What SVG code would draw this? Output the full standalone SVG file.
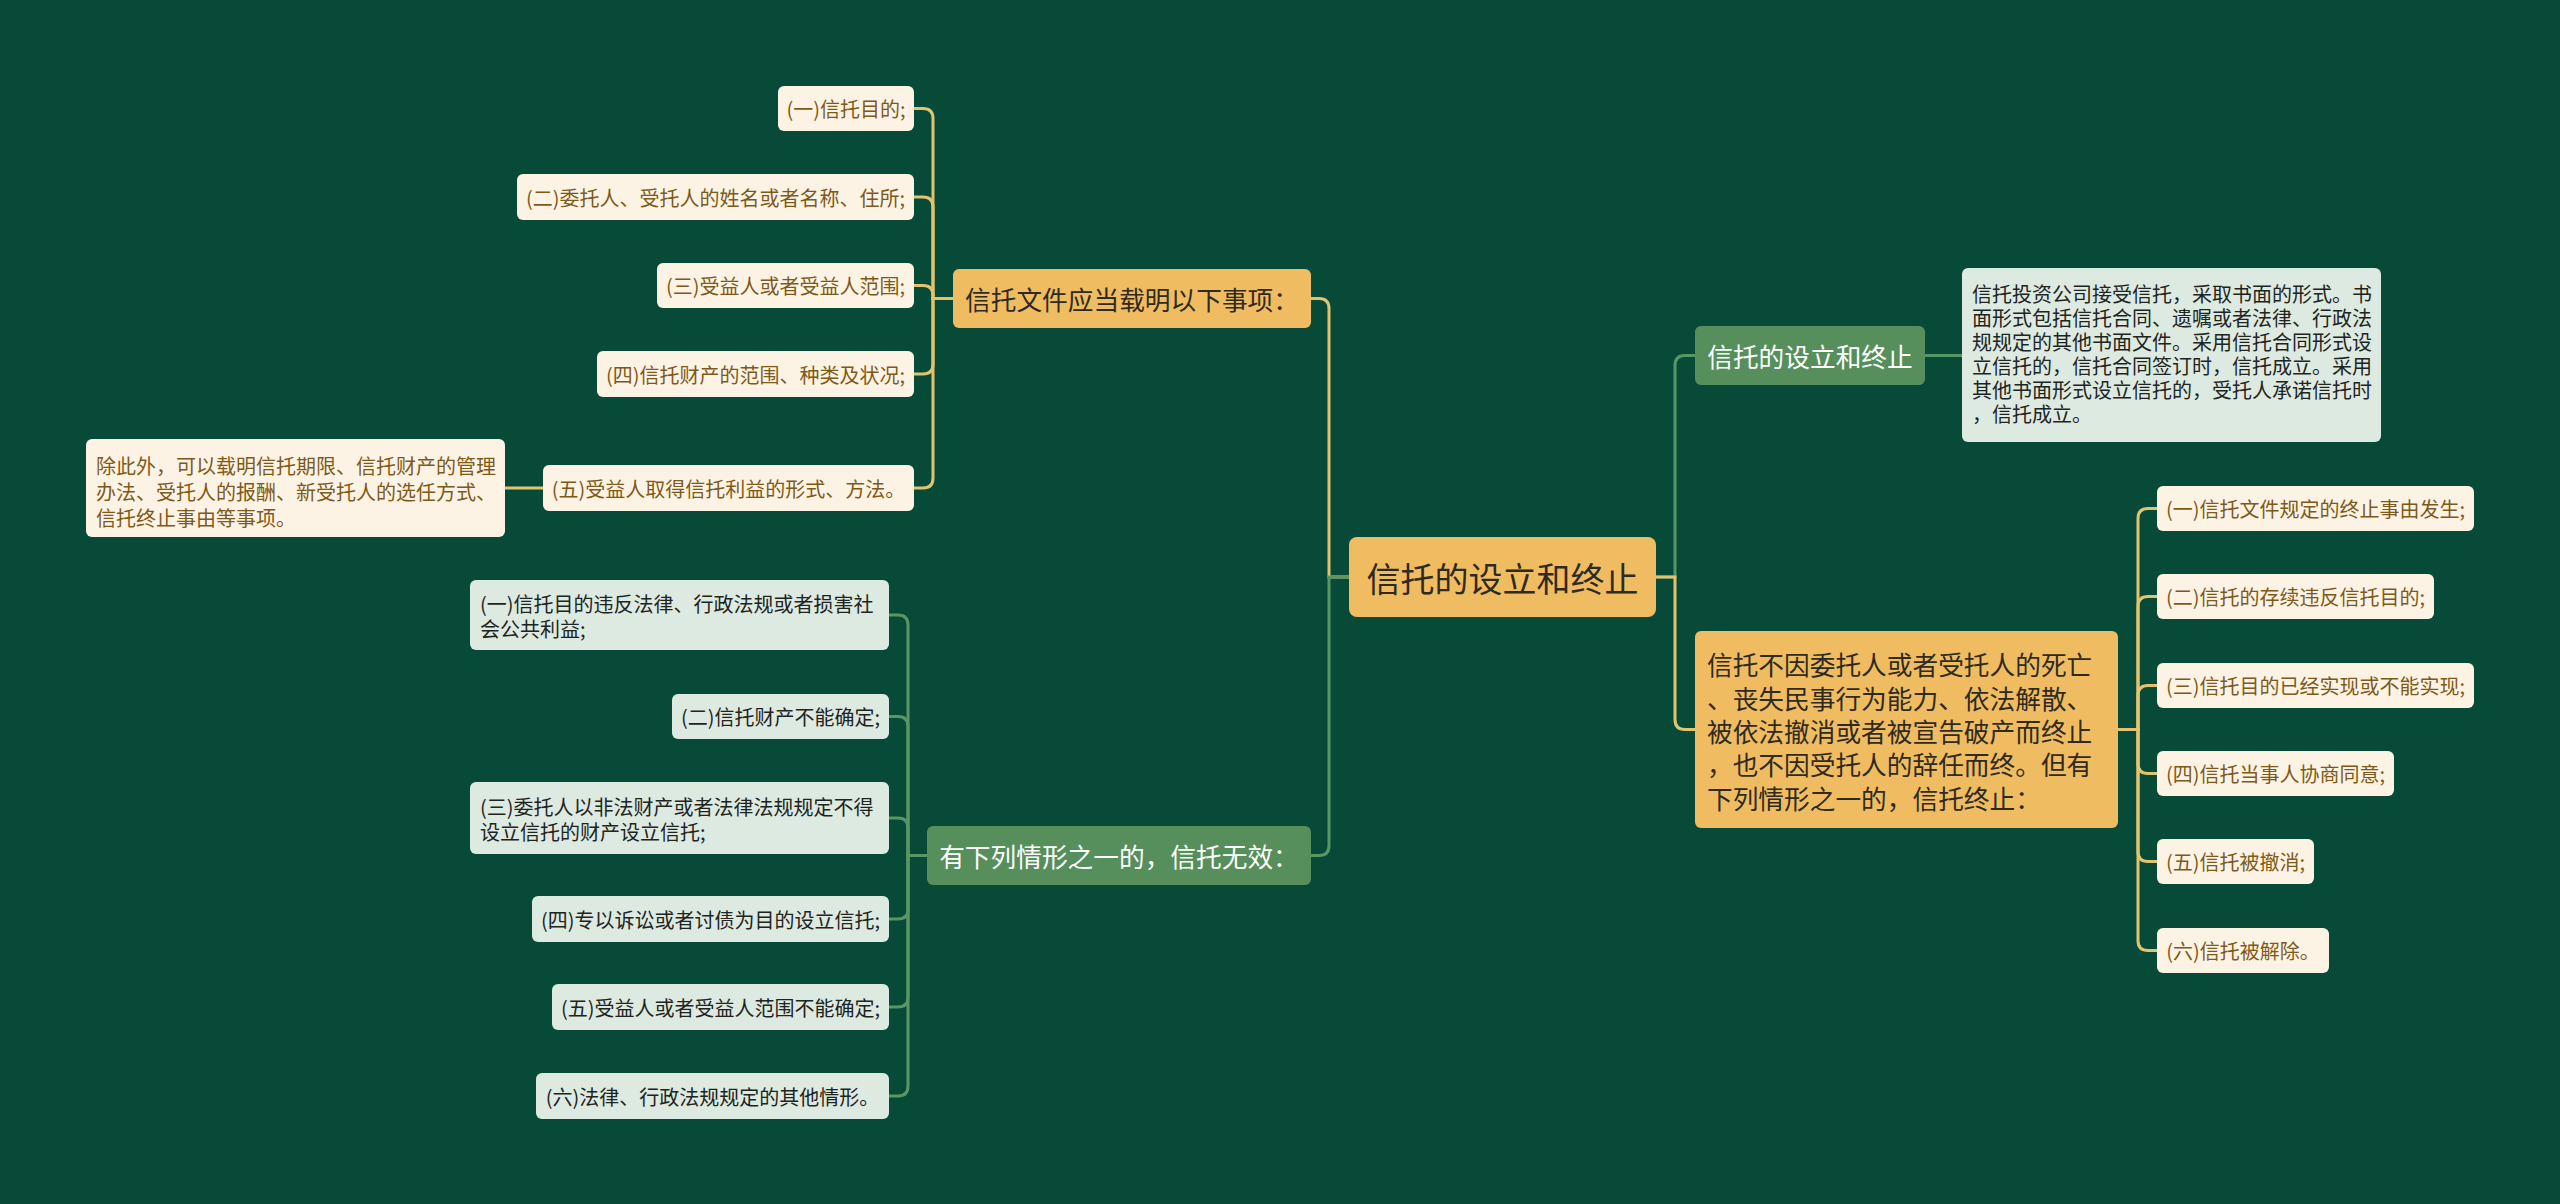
<svg xmlns="http://www.w3.org/2000/svg" width="2560" height="1204" viewBox="0 0 2560 1204">
<style>
text{font-family:"Noto Sans CJK SC","Noto Sans",sans-serif;dominant-baseline:central}
.bg{fill:#074a38}
.or{fill:#f0bc62}
.gr{fill:#568f5c}
.cr{fill:#fdf3e4}
.lg{fill:#ddeae1}
.tor{fill:#2e2a20;font-size:25.7px}
.tgr{fill:#ffffff;font-size:25.7px}
.tcr{fill:#7d5a19;font-size:20px}
.tlg{fill:#1e2420;font-size:20px}
.c{text-anchor:middle}
.lg-line{fill:none;stroke:#5a9664;stroke-width:3}
.gd-line{fill:none;stroke:#e2c46e;stroke-width:3}
</style>
<rect class="bg" x="0" y="0" width="2560" height="1204"/>
<g id="connectors">
<path class="gd-line" d="M1349,577 H1329 V308.5 Q1329,298.5 1319,298.5 H1311"/>
<path class="lg-line" d="M1349,577 H1329 V845.5 Q1329,855.5 1319,855.5 H1311"/>
<path class="lg-line" d="M1656,577 H1675 V365.5 Q1675,355.5 1685,355.5 H1695"/>
<path class="gd-line" d="M1656,577 H1675 V719.5 Q1675,729.5 1685,729.5 H1695"/>
<path class="gd-line" d="M953,298.5 H933 V118.5 Q933,108.5 923,108.5 H914"/>
<path class="gd-line" d="M953,298.5 H933 V207 Q933,197 923,197 H914"/>
<path class="gd-line" d="M953,298.5 H933 V295.5 Q933,285.5 923,285.5 H914"/>
<path class="gd-line" d="M953,298.5 H933 V364 Q933,374 923,374 H914"/>
<path class="gd-line" d="M953,298.5 H933 V478 Q933,488 923,488 H914"/>
<path class="gd-line" d="M543,488 H505"/>
<path class="lg-line" d="M927,855.5 H908 V625 Q908,615 898,615 H889"/>
<path class="lg-line" d="M927,855.5 H908 V726.5 Q908,716.5 898,716.5 H889"/>
<path class="lg-line" d="M927,855.5 H908 V828 Q908,818 898,818 H889"/>
<path class="lg-line" d="M927,855.5 H908 V909 Q908,919 898,919 H889"/>
<path class="lg-line" d="M927,855.5 H908 V997 Q908,1007 898,1007 H889"/>
<path class="lg-line" d="M927,855.5 H908 V1086 Q908,1096 898,1096 H889"/>
<path class="lg-line" d="M1925,355.5 H1962"/>
<path class="gd-line" d="M2118,729.5 H2138 V518.5 Q2138,508.5 2148,508.5 H2157"/>
<path class="gd-line" d="M2118,729.5 H2138 V606.5 Q2138,596.5 2148,596.5 H2157"/>
<path class="gd-line" d="M2118,729.5 H2138 V695.5 Q2138,685.5 2148,685.5 H2157"/>
<path class="gd-line" d="M2118,729.5 H2138 V763.5 Q2138,773.5 2148,773.5 H2157"/>
<path class="gd-line" d="M2118,729.5 H2138 V851.5 Q2138,861.5 2148,861.5 H2157"/>
<path class="gd-line" d="M2118,729.5 H2138 V940.5 Q2138,950.5 2148,950.5 H2157"/>
</g>
<g id="root"><rect class="or" x="1349" y="537" width="307" height="80" rx="8"/><text class="c" x="1502.5" y="577" style="fill:#2e2a20;font-size:34px">信托的设立和终止</text></g>
<g id="n1"><rect class="or" x="953" y="269" width="358" height="59" rx="6"/><text class="tor c" x="1132" y="298.5">信托文件应当载明以下事项：</text></g>
<g id="n1-1"><rect class="cr" x="778" y="86" width="136" height="45" rx="6"/><text class="tcr c" x="846" y="108.5">(一)信托目的;</text></g>
<g id="n1-2"><rect class="cr" x="517" y="174" width="397" height="46" rx="6"/><text class="tcr c" x="715.5" y="197">(二)委托人、受托人的姓名或者名称、住所;</text></g>
<g id="n1-3"><rect class="cr" x="657" y="263" width="257" height="45" rx="6"/><text class="tcr c" x="785.5" y="285.5">(三)受益人或者受益人范围;</text></g>
<g id="n1-4"><rect class="cr" x="597" y="351" width="317" height="46" rx="6"/><text class="tcr c" x="755.5" y="374">(四)信托财产的范围、种类及状况;</text></g>
<g id="n1-5"><rect class="cr" x="543" y="465" width="371" height="46" rx="6"/><text class="tcr c" x="728.5" y="488">(五)受益人取得信托利益的形式、方法。</text></g>
<g id="n1-5-1"><rect class="cr" x="86" y="439" width="419" height="98" rx="6"/><text class="tcr" x="96" y="465">除此外，可以载明信托期限、信托财产的管理</text><text class="tcr" x="96" y="491">办法、受托人的报酬、新受托人的选任方式、</text><text class="tcr" x="96" y="517">信托终止事由等事项。</text></g>
<g id="n2"><rect class="gr" x="927" y="826" width="384" height="59" rx="6"/><text class="tgr c" x="1119" y="855.5">有下列情形之一的，信托无效：</text></g>
<g id="n2-1"><rect class="lg" x="470" y="580" width="419" height="70" rx="6"/><text class="tlg" x="480" y="603">(一)信托目的违反法律、行政法规或者损害社</text><text class="tlg" x="480" y="628">会公共利益;</text></g>
<g id="n2-2"><rect class="lg" x="672" y="694" width="217" height="45" rx="6"/><text class="tlg c" x="780.5" y="716.5">(二)信托财产不能确定;</text></g>
<g id="n2-3"><rect class="lg" x="470" y="782" width="419" height="72" rx="6"/><text class="tlg" x="480" y="806">(三)委托人以非法财产或者法律法规规定不得</text><text class="tlg" x="480" y="831">设立信托的财产设立信托;</text></g>
<g id="n2-4"><rect class="lg" x="532" y="896" width="357" height="46" rx="6"/><text class="tlg c" x="710.5" y="919">(四)专以诉讼或者讨债为目的设立信托;</text></g>
<g id="n2-5"><rect class="lg" x="552" y="984" width="337" height="46" rx="6"/><text class="tlg c" x="720.5" y="1007">(五)受益人或者受益人范围不能确定;</text></g>
<g id="n2-6"><rect class="lg" x="536" y="1073" width="353" height="46" rx="6"/><text class="tlg c" x="712.5" y="1096">(六)法律、行政法规规定的其他情形。</text></g>
<g id="n3"><rect class="gr" x="1695" y="326" width="230" height="59" rx="6"/><text class="tgr c" x="1810" y="355.5">信托的设立和终止</text></g>
<g id="n3-1"><rect class="lg" x="1962" y="268" width="419" height="174" rx="6"/><text class="tlg" x="1972" y="293">信托投资公司接受信托，采取书面的形式。书</text><text class="tlg" x="1972" y="317">面形式包括信托合同、遗嘱或者法律、行政法</text><text class="tlg" x="1972" y="341">规规定的其他书面文件。采用信托合同形式设</text><text class="tlg" x="1972" y="365">立信托的，信托合同签订时，信托成立。采用</text><text class="tlg" x="1972" y="389">其他书面形式设立信托的，受托人承诺信托时</text><text class="tlg" x="1972" y="413">，信托成立。</text></g>
<g id="n4"><rect class="or" x="1695" y="631" width="423" height="197" rx="6"/><text class="tor" x="1707" y="663">信托不因委托人或者受托人的死亡</text><text class="tor" x="1707" y="697">、丧失民事行为能力、依法解散、</text><text class="tor" x="1707" y="730">被依法撤消或者被宣告破产而终止</text><text class="tor" x="1707" y="763">，也不因受托人的辞任而终。但有</text><text class="tor" x="1707" y="797">下列情形之一的，信托终止：</text></g>
<g id="n4-1"><rect class="cr" x="2157" y="486" width="317" height="45" rx="6"/><text class="tcr c" x="2315.5" y="508.5">(一)信托文件规定的终止事由发生;</text></g>
<g id="n4-2"><rect class="cr" x="2157" y="574" width="277" height="45" rx="6"/><text class="tcr c" x="2295.5" y="596.5">(二)信托的存续违反信托目的;</text></g>
<g id="n4-3"><rect class="cr" x="2157" y="663" width="317" height="45" rx="6"/><text class="tcr c" x="2315.5" y="685.5">(三)信托目的已经实现或不能实现;</text></g>
<g id="n4-4"><rect class="cr" x="2157" y="751" width="237" height="45" rx="6"/><text class="tcr c" x="2275.5" y="773.5">(四)信托当事人协商同意;</text></g>
<g id="n4-5"><rect class="cr" x="2157" y="839" width="157" height="45" rx="6"/><text class="tcr c" x="2235.5" y="861.5">(五)信托被撤消;</text></g>
<g id="n4-6"><rect class="cr" x="2157" y="928" width="172" height="45" rx="6"/><text class="tcr c" x="2243" y="950.5">(六)信托被解除。</text></g>
</svg>
